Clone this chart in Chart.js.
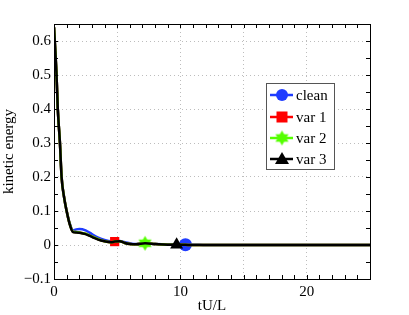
<!DOCTYPE html>
<html>
<head>
<meta charset="utf-8">
<script src="https://cdn.jsdelivr.net/npm/chart.js@4.4.1/dist/chart.umd.min.js"></script>
<style>
  html, body { margin: 0; padding: 0; background: #fff; }
  #wrap { width: 409px; height: 315px; }
</style>
</head>
<body>
<div id="wrap"><canvas id="keChart" width="409" height="315"></canvas></div>
<script>
// time samples (tU/L)
const time = [0, 0.2, 0.3, 0.47, 0.6, 0.8, 1.0, 1.25, 1.5, 1.75, 2, 2.5, 3, 3.5, 4, 4.5, 4.8, 5.2, 5.6, 6, 6.5, 7.2, 8, 9, 9.7, 10.4, 11, 12, 14, 16, 18, 20, 22, 25];

const cleanKE = [0.64, 0.5, 0.4, 0.3, 0.2, 0.14, 0.1, 0.063, 0.043, 0.046, 0.047, 0.043, 0.032, 0.022, 0.015, 0.011, 0.011, 0.012, 0.008, 0.005, 0.003, 0.005, 0.003, 0.002, 0.002, 0.001, 0.001, 0, 0, 0, 0, 0, 0, 0];
const var1KE = [0.64, 0.5, 0.4, 0.3, 0.2, 0.14, 0.1, 0.061, 0.039, 0.038, 0.037, 0.033, 0.025, 0.017, 0.011, 0.008, 0.01, 0.011, 0.006, 0.003, 0.002, 0.005, 0.003, 0.001, 0.001, 0.0005, 0, 0, 0, 0, 0, 0, 0, 0];
const var2KE = [0.64, 0.5, 0.4, 0.3, 0.2, 0.14, 0.1, 0.061, 0.039, 0.038, 0.037, 0.033, 0.025, 0.017, 0.011, 0.008, 0.01, 0.011, 0.006, 0.003, 0.002, 0.005, 0.003, 0.001, 0.001, 0.0005, 0, 0, 0, 0, 0, 0, 0, 0];
const var3KE = [0.64, 0.5, 0.4, 0.3, 0.2, 0.14, 0.1, 0.06, 0.038, 0.037, 0.036, 0.032, 0.024, 0.016, 0.011, 0.008, 0.01, 0.011, 0.006, 0.003, 0.002, 0.005, 0.003, 0.001, 0.001, 0.0005, 0, 0, 0, 0, 0, 0, 0, 0];

const seriesNames = ['clean', 'var 1', 'var 2', 'var 3'];
const seriesColors = ['#1f3cff', '#ff0000', '#55ff00', '#000000'];
const markerTimes = [10.4, 4.8, 7.2, 9.7];

const xTicks = [0, 5, 10, 15, 20, 25];
const yTicks = [-0.1, 0, 0.1, 0.2, 0.3, 0.4, 0.5, 0.6];

const FONT = '"Liberation Serif", "DejaVu Serif", serif';

// filled six-pointed star for var 2
function hexagram(color, r) {
    const c = document.createElement('canvas');
    const s = Math.ceil(r * 2 + 2);
    c.width = s; c.height = s;
    const g = c.getContext('2d');
    const cx = s / 2, cy = s / 2;
    g.fillStyle = color;
    [ -Math.PI / 2, Math.PI / 2 ].forEach(a0 => {
        g.beginPath();
        for (let k = 0; k < 3; k++) {
            const a = a0 + k * 2 * Math.PI / 3;
            const px = cx + r * Math.cos(a), py = cy + r * Math.sin(a);
            if (k === 0) g.moveTo(px, py); else g.lineTo(px, py);
        }
        g.closePath();
        g.fill();
    });
    return c;
}
const starImg = hexagram('#55ff00', 7.5);

const pointStyles = ['circle', 'rect', starImg, 'triangle'];
const pointSizes = [6.5, 6.5, 7, 7.5];
const allValues = [cleanKE, var1KE, var2KE, var3KE];

const datasets = allValues.map((vals, i) => {
    const mi = time.indexOf(markerTimes[i]);
    return {
        label: seriesNames[i],
        data: time.map((t, k) => ({ x: t, y: vals[k] })),
        borderColor: seriesColors[i],
        backgroundColor: seriesColors[i],
        borderWidth: 2.5,
        cubicInterpolationMode: 'monotone',
        pointStyle: pointStyles[i],
        pointRadius: ctx => ctx.dataIndex === mi ? pointSizes[i] : 0,
        pointBorderWidth: 0,
        pointHoverRadius: 0,
        order: 4 - i
    };
});

// frame with inward ticks, drawn over the data
const framePlugin = {
    id: 'frame',
    afterDatasetsDraw(chart) {
        const { ctx, chartArea: a, scales: { x, y } } = chart;
        ctx.save();
        ctx.strokeStyle = '#000';
        ctx.lineWidth = 1;
        ctx.beginPath();
        for (let t = 0; t <= 25; t += 1) {
            const px = Math.round(x.getPixelForValue(t)) + 0.5;
            ctx.moveTo(px, a.bottom); ctx.lineTo(px, a.bottom - 4);
            ctx.moveTo(px, a.top); ctx.lineTo(px, a.top + 4);
        }
        for (let v = -0.1; v <= 0.651; v += 0.05) {
            const py = Math.round(y.getPixelForValue(v)) + 0.5;
            ctx.moveTo(a.left, py); ctx.lineTo(a.left + 4, py);
            ctx.moveTo(a.right, py); ctx.lineTo(a.right - 4, py);
        }
        ctx.stroke();
        ctx.strokeRect(Math.round(a.left) + 0.5, Math.round(a.top) + 0.5,
            Math.round(a.right - a.left), Math.round(a.bottom - a.top));
        ctx.restore();
    }
};

// legend box inside the axes
const legendPlugin = {
    id: 'boxLegend',
    afterDraw(chart) {
        const ctx = chart.ctx;
        const bx = 266, by = 83, bw = 68, bh = 86;
        ctx.save();
        ctx.fillStyle = '#fff';
        ctx.fillRect(bx, by, bw, bh);
        ctx.strokeStyle = '#555';
        ctx.lineWidth = 1;
        ctx.strokeRect(bx + 0.5, by + 0.5, bw, bh);
        const rows = [95, 117, 138, 159];
        seriesNames.forEach((name, i) => {
            const yy = rows[i];
            ctx.strokeStyle = seriesColors[i];
            ctx.lineWidth = 2.5;
            ctx.beginPath();
            ctx.moveTo(270, yy); ctx.lineTo(293, yy);
            ctx.stroke();
            ctx.fillStyle = seriesColors[i];
            const cx = 282;
            if (i === 0) {
                ctx.beginPath(); ctx.arc(cx, yy, 6, 0, 2 * Math.PI); ctx.fill();
            } else if (i === 1) {
                ctx.fillRect(cx - 5.5, yy - 5.5, 11, 11);
            } else if (i === 2) {
                ctx.drawImage(starImg, cx - starImg.width / 2, yy - starImg.height / 2);
            } else {
                ctx.beginPath();
                ctx.moveTo(cx, yy - 7); ctx.lineTo(cx + 7, yy + 5); ctx.lineTo(cx - 7, yy + 5);
                ctx.closePath(); ctx.fill();
            }
            ctx.fillStyle = '#000';
            ctx.font = '15px ' + FONT;
            ctx.textBaseline = 'middle';
            ctx.textAlign = 'left';
            ctx.fillText(name, 296, yy + 1);
        });
        ctx.restore();
    }
};

new Chart(document.getElementById('keChart'), {
    type: 'line',
    data: { datasets },
    options: {
        responsive: false,
        animation: false,
        events: [],
        layout: { padding: { left: 0, right: 39, top: 24, bottom: 0 } },
        plugins: { legend: { display: false }, tooltip: { enabled: false } },
        scales: {
            x: {
                type: 'linear',
                min: 0, max: 25,
                afterBuildTicks: s => { s.ticks = xTicks.map(v => ({ value: v })); },
                afterFit: s => { s.height = 36; },
                border: { display: false, dash: [1, 3] },
                grid: { color: '#bdbdbd', drawTicks: false, lineWidth: 1 },
                ticks: {
                    color: '#000',
                    font: { family: FONT, size: 15 },
                    padding: 4,
                    maxRotation: 0,
                    callback: v => (v % 10 === 0 ? String(v) : '')
                },
                title: { display: true, text: 'tU/L', color: '#000', font: { family: FONT, size: 15 }, padding: { top: -4, bottom: 0 } }
            },
            y: {
                type: 'linear',
                min: -0.1, max: 0.65,
                afterBuildTicks: s => { s.ticks = yTicks.map(v => ({ value: v })); },
                afterFit: s => { s.width = 54; },
                border: { display: false, dash: [1, 3] },
                grid: { color: '#bdbdbd', drawTicks: false, lineWidth: 1 },
                ticks: {
                    color: '#000',
                    font: { family: FONT, size: 15 },
                    padding: 3,
                    callback: v => {
                        const r = Math.round(v * 10) / 10;
                        return r < 0 ? '\u2212' + Math.abs(r) : String(r);
                    }
                },
                title: { display: true, text: 'kinetic energy', color: '#000', font: { family: FONT, size: 15 }, padding: { top: 0, bottom: 0 } }
            }
        }
    },
    plugins: [framePlugin, legendPlugin]
});
</script>
</body>
</html>
